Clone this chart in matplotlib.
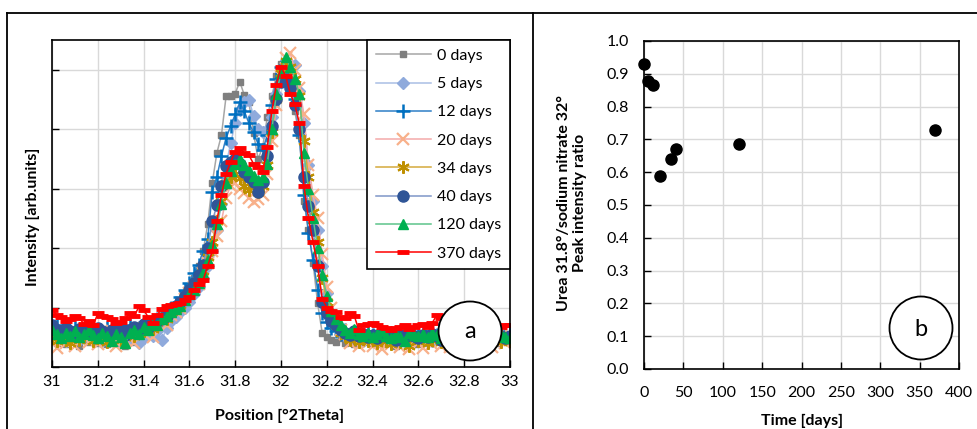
import numpy as np
import matplotlib
matplotlib.use("Agg")
import matplotlib.pyplot as plt
from matplotlib.patches import Ellipse
from matplotlib.lines import Line2D

plt.rcParams['font.family'] = ['Lato', 'DejaVu Sans']

# ---------------- data: panel a (XRD patterns) ----------------
position = np.linspace(31.0, 33.0, 101)  # °2Theta measurement grid (0.02 step)

days_labels = ["0 days", "5 days", "12 days", "20 days", "34 days", "40 days", "120 days", "370 days"]

int_0 = [0.45, 0.40, 0.48, 0.38, 0.44, 0.50, 0.36, 0.46, 0.42, 0.48,
         0.40, 0.46, 0.38, 0.44, 0.50, 0.40, 0.36, 0.46, 0.42, 0.52,
         0.48, 0.55, 0.60, 0.62, 0.70, 0.78, 0.85, 0.95, 1.05, 1.20,
         1.35, 1.50, 1.70, 1.95, 2.40, 3.10, 3.60, 3.90, 4.55, 4.55,
         4.60, 4.80, 4.57, 4.45, 3.93, 3.50, 3.70, 4.20, 4.55, 4.90,
         5.10, 5.05, 4.80, 4.30, 3.90, 2.80, 2.30, 1.75, 1.07, 0.57,
         0.50, 0.46, 0.42, 0.48, 0.40, 0.44, 0.38, 0.46, 0.42, 0.48,
         0.40, 0.44, 0.38, 0.46, 0.42, 0.36, 0.44, 0.40, 0.48, 0.42,
         0.38, 0.46, 0.40, 0.44, 0.48, 0.42, 0.38, 0.46, 0.40, 0.44,
         0.42, 0.48, 0.40, 0.44, 0.38, 0.46, 0.42, 0.40, 0.48, 0.44,
         0.42]
int_5 = [0.55, 0.48, 0.52, 0.44, 0.50, 0.56, 0.46, 0.52, 0.48, 0.54,
         0.50, 0.44, 0.52, 0.48, 0.56, 0.42, 0.50, 0.46, 0.54, 0.40,
         0.48, 0.56, 0.52, 0.60, 0.45, 0.66, 0.78, 0.84, 0.92, 1.00,
         1.10, 1.22, 1.35, 1.50, 1.70, 1.95, 2.30, 2.75, 3.40, 3.76,
         4.10, 4.33, 4.45, 4.49, 4.23, 4.00, 3.95, 3.98, 4.20, 4.60,
         4.90, 5.05, 5.10, 5.08, 4.65, 4.10, 3.40, 2.80, 2.30, 1.70,
         1.25, 0.90, 0.70, 0.60, 0.52, 0.48, 0.56, 0.50, 0.44, 0.52,
         0.48, 0.54, 0.46, 0.50, 0.42, 0.52, 0.48, 0.56, 0.46, 0.50,
         0.54, 0.48, 0.52, 0.44, 0.50, 0.56, 0.46, 0.52, 0.48, 0.54,
         0.50, 0.46, 0.52, 0.48, 0.56, 0.50, 0.44, 0.52, 0.48, 0.54,
         0.50]
int_12 = [0.62, 0.70, 0.56, 0.64, 0.58, 0.66, 0.52, 0.60, 0.68, 0.56,
          0.62, 0.58, 0.66, 0.54, 0.60, 0.64, 0.58, 0.70, 0.62, 0.66,
          0.70, 0.74, 0.68, 0.80, 0.86, 0.92, 1.00, 1.08, 1.18, 1.30,
          1.42, 1.58, 1.72, 1.95, 2.15, 2.95, 3.20, 3.55, 3.85, 4.05,
          4.25, 4.45, 4.30, 4.10, 3.95, 3.75, 3.65, 3.90, 4.40, 4.85,
          5.05, 5.10, 4.85, 4.50, 3.90, 2.90, 2.25, 1.80, 1.30, 0.90,
          0.75, 0.66, 0.60, 0.56, 0.62, 0.54, 0.58, 0.50, 0.56, 0.60,
          0.54, 0.50, 0.58, 0.48, 0.56, 0.52, 0.60, 0.46, 0.54, 0.58,
          0.52, 0.56, 0.50, 0.60, 0.54, 0.72, 0.52, 0.56, 0.50, 0.58,
          0.54, 0.60, 0.52, 0.56, 0.50, 0.58, 0.54, 0.60, 0.52, 0.56,
          0.58]
int_20 = [0.45, 0.32, 0.55, 0.40, 0.58, 0.36, 0.50, 0.62, 0.42, 0.48,
          0.38, 0.55, 0.44, 0.60, 0.36, 0.52, 0.46, 0.58, 0.40, 0.62,
          0.55, 0.68, 0.50, 0.72, 0.78, 0.70, 0.88, 0.92, 1.00, 1.15,
          1.25, 1.35, 1.40, 1.58, 1.75, 1.95, 2.20, 2.45, 2.85, 3.05,
          3.10, 3.00, 2.92, 2.85, 2.78, 2.82, 2.90, 3.25, 3.80, 4.40,
          4.90, 5.20, 5.28, 5.00, 4.70, 4.25, 3.40, 2.90, 2.50, 1.90,
          1.35, 1.00, 0.80, 0.62, 0.55, 0.40, 0.50, 0.35, 0.48, 0.42,
          0.36, 0.50, 0.30, 0.45, 0.38, 0.52, 0.34, 0.44, 0.30, 0.46,
          0.40, 0.32, 0.48, 0.38, 0.52, 0.36, 0.44, 0.34, 0.50, 0.40,
          0.36, 0.46, 0.42, 0.55, 0.38, 0.48, 0.34, 0.44, 0.52, 0.40,
          0.45]
int_34 = [0.50, 0.44, 0.58, 0.48, 0.40, 0.55, 0.46, 0.52, 0.60, 0.44,
          0.56, 0.48, 0.42, 0.54, 0.62, 0.46, 0.50, 0.58, 0.52, 0.66,
          0.60, 0.70, 0.64, 0.76, 0.82, 0.80, 0.90, 0.98, 1.05, 1.18,
          1.28, 1.38, 1.48, 1.62, 1.85, 2.10, 2.45, 2.80, 3.10, 3.20,
          3.25, 3.18, 3.05, 2.98, 3.02, 2.95, 3.05, 3.40, 3.95, 4.50,
          4.95, 5.15, 5.05, 4.85, 4.55, 3.80, 3.20, 2.60, 2.10, 1.50,
          1.10, 0.85, 0.70, 0.58, 0.52, 0.46, 0.54, 0.42, 0.50, 0.44,
          0.48, 0.40, 0.52, 0.44, 0.38, 0.50, 0.42, 0.46, 0.36, 0.48,
          0.44, 0.50, 0.40, 0.46, 0.52, 0.42, 0.38, 0.48, 0.44, 0.50,
          0.42, 0.48, 0.40, 0.52, 0.44, 0.38, 0.50, 0.46, 0.42, 0.48,
          0.44]
int_40 = [0.70, 0.62, 0.58, 0.66, 0.60, 0.54, 0.64, 0.58, 0.62, 0.56,
          0.66, 0.60, 0.56, 0.62, 0.58, 0.66, 0.54, 0.62, 0.68, 0.64,
          0.72, 0.66, 0.74, 0.78, 0.82, 0.86, 0.94, 1.02, 1.10, 1.20,
          1.30, 1.42, 1.55, 1.72, 2.00, 2.45, 2.72, 3.05, 3.38, 3.45,
          3.50, 3.42, 3.28, 3.20, 3.12, 2.95, 3.12, 3.55, 4.05, 4.50,
          4.80, 4.85, 4.70, 4.40, 4.00, 3.20, 2.70, 2.30, 1.70, 1.10,
          0.90, 0.78, 0.70, 0.62, 0.58, 0.54, 0.60, 0.52, 0.56, 0.50,
          0.54, 0.48, 0.56, 0.52, 0.50, 0.46, 0.54, 0.50, 0.56, 0.52,
          0.48, 0.54, 0.50, 0.56, 0.52, 0.46, 0.54, 0.50, 0.48, 0.56,
          0.52, 0.50, 0.54, 0.48, 0.56, 0.50, 0.46, 0.54, 0.52, 0.48,
          0.52]
int_120 = [0.62, 0.55, 0.48, 0.58, 0.52, 0.60, 0.50, 0.56, 0.62, 0.54,
           0.48, 0.58, 0.52, 0.44, 0.56, 0.50, 0.40, 0.58, 0.62, 0.56,
           0.68, 0.62, 0.72, 0.70, 0.80, 0.86, 0.92, 0.98, 1.02, 1.12,
           1.22, 1.30, 1.42, 1.58, 1.80, 2.05, 2.40, 2.75, 3.10, 3.30,
           3.42, 3.50, 3.40, 3.32, 3.22, 3.15, 3.20, 3.42, 4.00, 4.60,
           4.95, 5.22, 5.05, 4.85, 4.60, 3.60, 3.00, 2.50, 2.00, 1.55,
           1.20, 0.95, 0.80, 0.70, 0.62, 0.58, 0.64, 0.56, 0.52, 0.58,
           0.50, 0.56, 0.60, 0.52, 0.48, 0.56, 0.50, 0.44, 0.58, 0.54,
           0.52, 0.56, 0.50, 0.58, 0.54, 0.48, 0.56, 0.60, 0.52, 0.50,
           0.56, 0.54, 0.60, 0.50, 0.46, 0.54, 0.58, 0.52, 0.56, 0.50,
           0.48]
int_370 = [0.96, 0.88, 0.84, 0.78, 0.80, 0.86, 0.82, 0.72, 0.78, 0.70,
           0.90, 0.86, 0.84, 0.80, 0.74, 0.76, 0.82, 0.90, 0.86, 1.02,
           0.96, 0.84, 0.74, 0.88, 0.98, 1.02, 1.04, 1.06, 1.08, 1.12,
           1.18, 1.30, 1.40, 1.46, 1.70, 1.95, 2.45, 2.90, 3.25, 3.45,
           3.62, 3.68, 3.60, 3.56, 3.42, 3.36, 3.28, 3.70, 4.30, 4.75,
           5.05, 4.90, 4.60, 4.42, 4.10, 3.05, 2.50, 2.10, 1.70, 1.15,
           1.00, 0.95, 0.92, 0.84, 0.82, 0.90, 0.86, 0.62, 0.70, 0.72,
           0.74, 0.70, 0.68, 0.66, 0.62, 0.66, 0.68, 0.70, 0.64, 0.68,
           0.70, 0.72, 0.68, 0.74, 0.87, 0.82, 0.70, 0.66, 0.72, 0.68,
           0.66, 0.70, 0.64, 0.68, 0.72, 0.66, 0.70, 0.64, 0.68, 0.70,
           0.70]

x_ticks_a = [31, 31.2, 31.4, 31.6, 31.8, 32, 32.2, 32.4, 32.6, 32.8, 33]
x_ticklabels_a = ["31", "31.2", "31.4", "31.6", "31.8", "32", "32.2", "32.4", "32.6", "32.8", "33"]

# ---------------- data: panel b (peak ratio) ----------------
time_days = [0, 5, 12, 20, 34, 40, 120, 370]
peak_ratio = [0.93, 0.878, 0.865, 0.587, 0.640, 0.672, 0.685, 0.730]

# ---------------- styles ----------------
series = [int_0, int_5, int_12, int_20, int_34, int_40, int_120, int_370]
styles = [
    dict(color='#A6A6A6', marker='s', mfc='#7F7F7F', mec='#7F7F7F', ms=4.5, mew=1),
    dict(color='#A9BEE4', marker='D', mfc='#8FAADC', mec='#8FAADC', ms=6.5, mew=1),
    dict(color='#2E7FC6', marker='+', mfc='#0070C0', mec='#0070C0', ms=10, mew=1.8),
    dict(color='#F4AAAA', marker='x', mfc='#F8B08A', mec='#F8B08A', ms=9, mew=1.6),
    dict(color='#D4AA3C', marker=(6, 2, 0), mfc='#BF9000', mec='#BF9000', ms=9, mew=1.5),
    dict(color='#7F96C8', marker='o', mfc='#2F5597', mec='#2F5597', ms=8, mew=1),
    dict(color='#5CC48A', marker='^', mfc='#00B050', mec='#00B050', ms=7.5, mew=1),
    dict(color='#FF0000', marker='_', mfc='#FF0000', mec='#FF0000', ms=9, mew=3.5),
]

W, H = 977, 429
fig = plt.figure(figsize=(W / 100, H / 100), dpi=100)

def fx(px):
    return px / W

def fy(py):
    return 1 - py / H

grid_col = '#D9D9D9'
FS_TICK = 11.5
FS_LAB = 11.5

# ---------------- panel a ----------------
axa = fig.add_axes([fx(52), fy(367), fx(510) - fx(52), fy(40) - fy(367)])
for vals, lab, st in zip(series, days_labels, styles):
    axa.plot(position, vals, label=lab, lw=1.1, **st)
axa.set_xlim(31, 33)
axa.set_ylim(0, 5.5)
axa.set_xticks(x_ticks_a)
axa.set_xticklabels(x_ticklabels_a)
axa.set_yticks([0, 1, 2, 3, 4, 5])
axa.set_yticklabels([])
axa.grid(True, color=grid_col, lw=1)
axa.set_axisbelow(True)
axa.tick_params(direction='in', length=5, width=1, labelsize=FS_TICK, pad=6)
for s in axa.spines.values():
    s.set_linewidth(1.2)
    s.set_color('black')
leg = axa.legend(loc='upper right', bbox_to_anchor=(1, 1), borderaxespad=0,
                 fancybox=False, edgecolor='black', framealpha=1, fontsize=FS_TICK,
                 handlelength=3.4, labelspacing=0.88, borderpad=0.55, handletextpad=0.4)
leg.get_frame().set_linewidth(1.2)
leg.set_zorder(5)

fig.text(fx(280), fy(416), "Position [°2Theta]", ha='center', va='center',
         fontsize=FS_LAB, fontweight='bold')
fig.text(fx(33), fy(217), "Intensity [arb.units]", ha='center', va='center',
         rotation=90, fontsize=FS_LAB, fontweight='bold')

ell_a = Ellipse((4.70, (H - 331) / 100), 0.63, 0.59, transform=fig.dpi_scale_trans,
                facecolor='white', edgecolor='black', lw=1.3, zorder=10)
fig.add_artist(ell_a)
fig.text(4.70 / (W / 100), (H - 331) / H, "a", ha='center', va='center', fontsize=17, zorder=11)

# ---------------- panel b ----------------
axb = fig.add_axes([fx(644), fy(369), fx(959) - fx(644), fy(41) - fy(369)])
axb.plot(time_days, peak_ratio, linestyle='none', marker='o', ms=8, color='black',
         clip_on=False, zorder=4)
axb.set_xlim(0, 400)
axb.set_ylim(0, 1.0)
axb.set_xticks(np.arange(0, 401, 50))
axb.set_yticks(np.arange(0, 1.01, 0.1))
axb.set_yticklabels([f"{v:.1f}" for v in np.arange(0, 1.01, 0.1)])
axb.grid(True, color=grid_col, lw=1)
axb.set_axisbelow(True)
axb.tick_params(direction='in', length=5, width=1, labelsize=FS_TICK)
axb.tick_params(axis='x', pad=12)
axb.tick_params(axis='y', pad=11)
for s in axb.spines.values():
    s.set_linewidth(1.2)
    s.set_color('black')

fig.text(fx(802), fy(421), "Time [days]", ha='center', va='center',
         fontsize=FS_LAB, fontweight='bold')
fig.text(fx(572), fy(203), "Urea 31.8°/sodium nitrate 32°\nPeak intensity ratio",
         ha='center', va='center', rotation=90, fontsize=FS_LAB, fontweight='bold',
         multialignment='center', linespacing=1.25)

circ_b = Ellipse((9.21, (H - 328) / 100), 0.63, 0.63, transform=fig.dpi_scale_trans,
                 facecolor='white', edgecolor='black', lw=1.3, zorder=10)
fig.add_artist(circ_b)
fig.text(9.21 / (W / 100), (H - 330) / H, "b", ha='center', va='center', fontsize=17, zorder=11)

# ---------------- chart-area borders ----------------
for (x0, y0, x1, y1) in [(7, 13, 977, 13), (7, 13, 7, 429), (533, 13, 533, 429)]:
    fig.add_artist(Line2D([fx(x0), fx(x1)], [fy(y0), fy(y1)], color='black', lw=1.3,
                          transform=fig.transFigure))

fig.savefig("out.png", dpi=100)
